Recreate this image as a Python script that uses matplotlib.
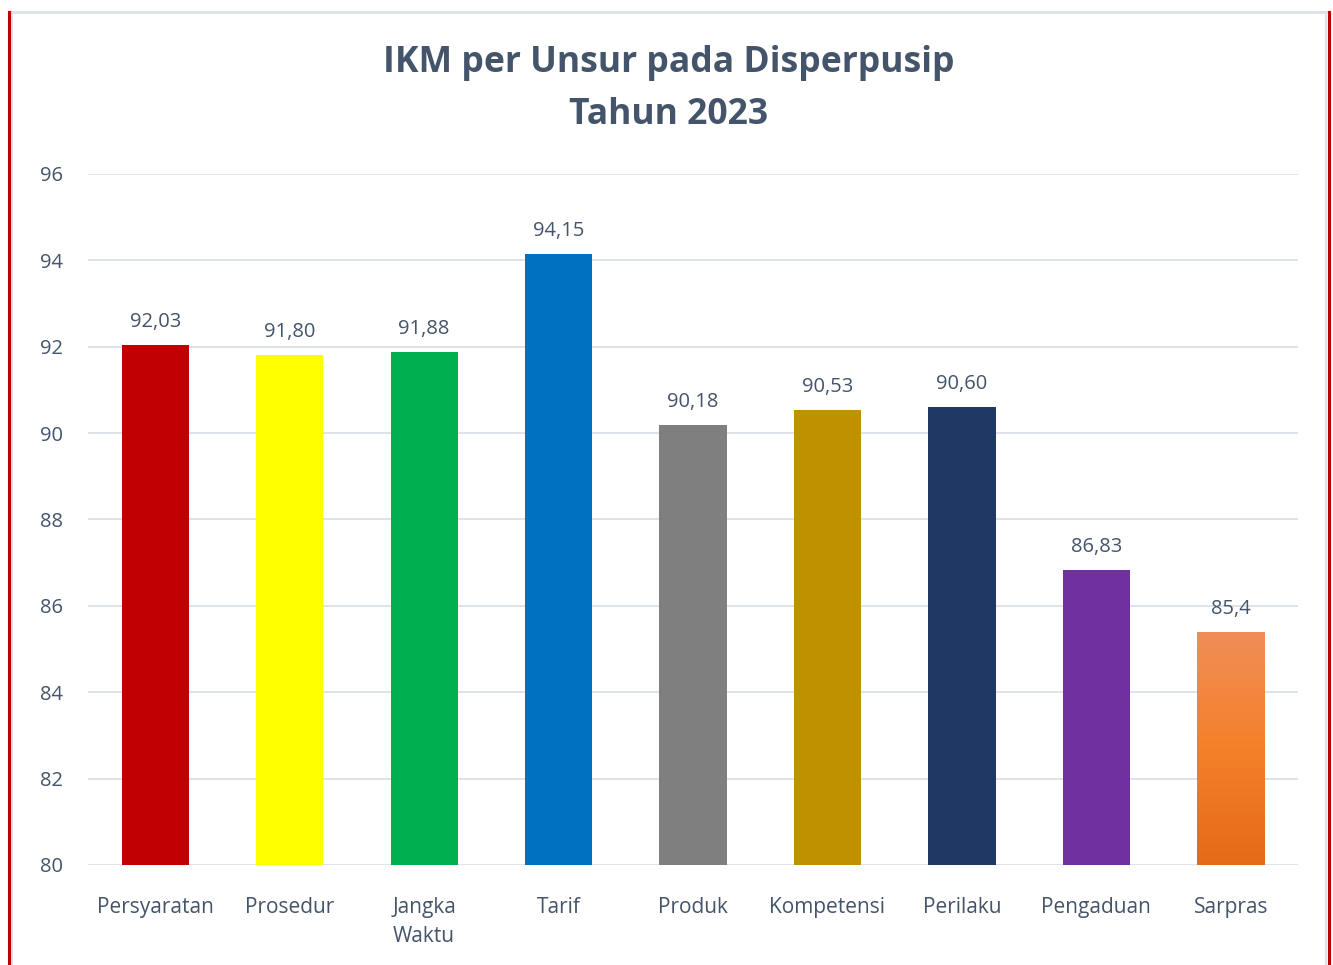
import numpy as np
import matplotlib.pyplot as plt
from matplotlib.lines import Line2D
from matplotlib.colors import LinearSegmentedColormap

# data
categories = ['Persyaratan', 'Prosedur', 'Jangka\nWaktu', 'Tarif', 'Produk',
              'Kompetensi', 'Perilaku', 'Pengaduan', 'Sarpras']
values = [92.03, 91.80, 91.88, 94.15, 90.18, 90.53, 90.60, 86.83, 85.4]
value_labels = ['92,03', '91,80', '91,88', '94,15', '90,18', '90,53', '90,60', '86,83', '85,4']
colors = ['#C00000', '#FFFF00', '#00B050', '#0070C0', '#7F7F7F',
          '#BF9000', '#1F3864', '#7030A0', '#F47F2A']
y_ticks = [80, 82, 84, 86, 88, 90, 92, 94, 96]

text_color = '#44546A'
plt.rcParams['font.family'] = ['Open Sans', 'DejaVu Sans']

fig = plt.figure(figsize=(13.33, 9.65), dpi=100)
W, H = 1333, 965
ax = fig.add_axes([88 / W, 1 - 865 / H, 1210 / W, (865 - 174) / H])

x = np.arange(len(categories))
bars = ax.bar(x, [v - 80 for v in values], bottom=80, width=0.5, color=colors, zorder=3)

# gradient fill for the last bar
last = bars[-1]
grad = LinearSegmentedColormap.from_list('og', ['#E46A18', '#F5802A', '#F08E58'])
gx0 = last.get_x()
im = ax.imshow(np.linspace(0, 1, 256).reshape(-1, 1), cmap=grad, origin='lower', aspect='auto',
               extent=[gx0, gx0 + last.get_width(), 80, values[-1]], zorder=3.5)
im.set_clip_path(last)

for xi, v, lab in zip(x, values, value_labels):
    ax.annotate(lab, (xi, v), xytext=(0, 9.5), textcoords='offset points',
                ha='center', va='bottom', fontsize=14.5, color=text_color)

ax.set_xlim(-0.5, len(categories) - 0.5)
ax.set_ylim(80, 96)
ax.set_yticks(y_ticks)
ax.set_yticklabels([str(t) for t in y_ticks], fontsize=14.5, color=text_color)
ax.set_xticks(x)
ax.set_xticklabels(categories, fontsize=15, color=text_color, linespacing=1.5)
ax.tick_params(length=0, pad=18)
ax.tick_params(axis='x', pad=23)
ax.yaxis.grid(True, color='#DEE3EA', linewidth=1.4, zorder=0)
for s in ax.spines.values():
    s.set_visible(False)
ax.set_axisbelow(True)

fig.text(669 / W, 1 - 63 / H, 'IKM per Unsur pada Disperpusip', ha='center', va='center',
         fontsize=25.6, fontweight='bold', color=text_color)
fig.text(669 / W, 1 - 114.5 / H, 'Tahun 2023', ha='center', va='center',
         fontsize=25.6, fontweight='bold', color=text_color)

# frame lines around the chart
fig.add_artist(Line2D([11 / W, 1326 / W], [1 - 12 / H, 1 - 12 / H], color='#DDE1E8', linewidth=2))
fig.add_artist(Line2D([11.5 / W, 11.5 / W], [0, 1 - 12 / H], color='#DDE1E8', linewidth=1.5))
fig.add_artist(Line2D([1325.5 / W, 1325.5 / W], [0, 1 - 12 / H], color='#DDE1E8', linewidth=1.5))
fig.add_artist(Line2D([8.5 / W, 8.5 / W], [0, 1 - 12 / H], color='#C00000', linewidth=2.2))
fig.add_artist(Line2D([1329 / W, 1329 / W], [0, 1 - 12 / H], color='#C00000', linewidth=2.2))

plt.savefig('out.png', dpi=100)
plt.close()
